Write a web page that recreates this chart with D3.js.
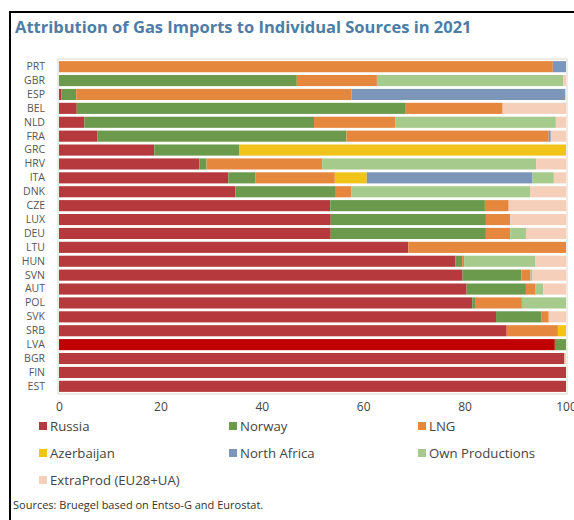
<!DOCTYPE html>
<meta charset="utf-8">
<html>
<head>
<style>
  body { margin: 0; background: #fff; }
  svg { font-family: "Open Sans", "Noto Sans", sans-serif; }
</style>
<script src="https://d3js.org/d3.v7.min.js"></script>
</head>
<body>
<script>
// Countries, top to bottom
var countries = ["PRT","GBR","ESP","BEL","NLD","FRA","GRC","HRV","ITA","DNK","CZE","LUX",
                 "DEU","LTU","HUN","SVN","AUT","POL","SVK","SRB","LVA","BGR","FIN","EST"];

// Share of imports by source (%)
var russia     = [0,0,0.5,3.5,5.0,7.6,18.8,27.7,33.4,34.8,53.5,53.6,53.6,68.9,78.2,79.6,80.4,81.5,86.2,88.3,97.8,99.7,100,100];
var norway     = [0,46.9,2.9,64.9,45.3,49.1,16.8,1.4,5.3,19.8,30.5,30.6,30.6,0,1.3,11.6,11.7,0.7,9.0,0,2.2,0,0,0];
var lng        = [97.4,15.8,54.3,19.1,16.0,39.9,0,22.8,15.7,3.1,4.7,4.8,4.8,31.1,0.4,1.8,1.8,9.1,1.4,10.1,0,0,0,0];
var azerbaijan = [0,0,0,0,0,0,64.4,0,6.3,0,0,0,0,0,0,0,0,0,0,1.6,0,0,0,0];
var northAfrica= [2.6,0,42.1,0,0,0.4,0,0,32.7,0,0,0,0,0,0,0,0,0,0,0,0,0,0,0];
var ownProd    = [0,36.8,0,0,31.7,0,0,42.2,4.2,35.2,0,0,3.1,0,14.0,0.4,1.6,8.7,0,0,0,0,0,0];
var extraProd  = [0,0.5,0.2,12.5,2.0,3.0,0,5.9,2.4,7.1,11.3,11.0,7.9,0,6.1,6.6,4.5,0,3.4,0,0,0.3,0,0];

var seriesNames = ["Russia","Norway","LNG","Azerbaijan","North Africa","Own Productions","ExtraProd (EU28+UA)"];
var seriesData  = [russia, norway, lng, azerbaijan, northAfrica, ownProd, extraProd];
var xTicks = [0, 20, 40, 60, 80, 100];
var highlighted = ["LVA"];

var colors = ["#b63a3d","#6b9a4d","#e6873e","#f1c419","#7c96ba","#a6c98c","#f5cfb9"];
var highlightColor = "#c00000";

var width = 574, height = 520;
var svg = d3.select("body").append("svg")
    .attr("width", width)
    .attr("height", height);

// frame
svg.append("path")
    .attr("d", "M10,520 V12 H574")
    .attr("fill", "none")
    .attr("stroke", "#000")
    .attr("stroke-width", 2);

// title
svg.append("text")
    .attr("x", 15)
    .attr("y", 33)
    .attr("fill", "#4d7ca6")
    .attr("font-size", 16.5)
    .attr("font-weight", "bold")
    .text("Attribution of Gas Imports to Individual Sources in 2021");

// build rows for stacking
var rows = countries.map(function(c, i) {
    var r = {country: c};
    seriesNames.forEach(function(s, j) { r[s] = seriesData[j][i]; });
    return r;
});
var stacked = d3.stack().keys(seriesNames)(rows);

var x = d3.scaleLinear().domain([0, 100]).range([59, 566]);
var y = d3.scaleBand().domain(countries).range([60, 393]).paddingInner(0.2).paddingOuter(0.08);
var color = d3.scaleOrdinal().domain(seriesNames).range(colors);

// plot border
svg.append("rect")
    .attr("x", 58).attr("y", 59)
    .attr("width", 509).attr("height", 335)
    .attr("fill", "none")
    .attr("stroke", "#ddd6cf");

svg.append("g")
  .selectAll("g")
  .data(stacked)
  .join("g")
    .selectAll("rect")
    .data(function(d) { return d.map(function(v) { v.key = d.key; return v; }); })
    .join("rect")
      .attr("x", function(d) { return x(d[0]); })
      .attr("y", function(d) { return y(d.data.country); })
      .attr("width", function(d) { return Math.max(0, x(d[1]) - x(d[0])); })
      .attr("height", y.bandwidth())
      .attr("fill", function(d) {
          if (d.key == "Russia" && highlighted.indexOf(d.data.country) >= 0) return highlightColor;
          return color(d.key);
      });

// y labels
svg.append("g")
    .attr("transform", "translate(45,0)")
    .call(d3.axisLeft(y).tickSize(0).tickPadding(0))
    .call(function(g) { g.select(".domain").remove(); })
    .selectAll("text")
      .attr("fill", "#555")
      .attr("font-size", 10.5)
      .attr("font-family", "Open Sans, sans-serif");

// x labels
svg.append("g")
    .attr("transform", "translate(0,396)")
    .call(d3.axisBottom(x).tickValues(xTicks).tickSize(0).tickPadding(6))
    .call(function(g) { g.select(".domain").remove(); })
    .selectAll("text")
      .attr("fill", "#444")
      .attr("font-size", 12)
      .attr("font-family", "Open Sans, sans-serif");

// legend
var colX = [39, 229, 418];
var rowY = [426, 453, 480];
var legend = svg.append("g")
  .selectAll("g")
  .data(seriesNames)
  .join("g")
    .attr("transform", function(d, i) {
        return "translate(" + colX[i % 3] + "," + rowY[Math.floor(i / 3)] + ")";
    });
legend.append("rect")
    .attr("x", 0).attr("y", -4)
    .attr("width", 8).attr("height", 8)
    .attr("fill", function(d) { return color(d); });
legend.append("text")
    .attr("x", 11)
    .attr("y", 0)
    .attr("dy", "0.35em")
    .attr("fill", "#444")
    .attr("font-size", 13.2)
    .text(function(d) { return d; });

// source note
svg.append("text")
    .attr("x", 13)
    .attr("y", 509)
    .attr("fill", "#333")
    .attr("font-size", 11)
    .text("Sources: Bruegel based on Entso-G and Eurostat.");
</script>
</body>
</html>
